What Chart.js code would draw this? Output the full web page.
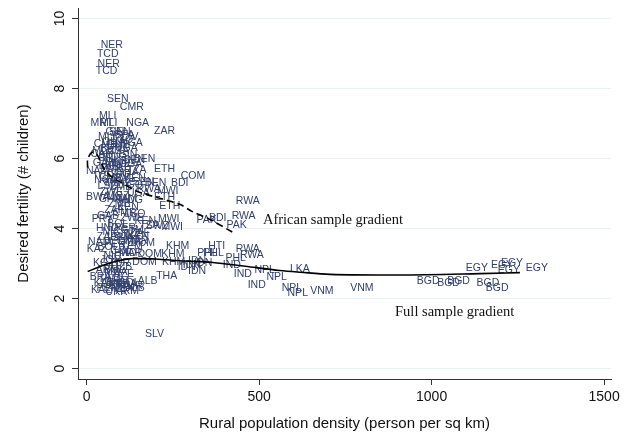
<!DOCTYPE html>
<html>
<head>
<meta charset="utf-8">
<script src="https://cdn.jsdelivr.net/npm/chart.js@4/dist/chart.umd.min.js"></script>
<style>
  html, body { margin: 0; padding: 0; background: #fff; }
  #wrap { width: 635px; height: 437px; }
</style>
</head>
<body>
<div id="wrap"><canvas id="chartFertilidad" width="635" height="437"></canvas></div>
<script>
// country labels, rural density (person per sq km), desired fertility
const codes = [
  'NER','TCD','NER','TCD','SEN','CMR','MLI','MRT','MLI','NGA',
  'ZAR','SEN','GIN','MLI','BFA','CIV','TGO','GHA','NGA','CMR',
  'GMB','UGA','BEN','MOZ','TZA','CAF','GIN','MDG','ERI','BEN',
  'SEN','KEN','GAB','UGA','MWI','LBR','SLE','ETH','ZMB','TZA',
  'NAM','GHA','COG','TCD','COM','KEN','CMR','ZWE','NGA','BDI',
  'SEN','BEN','MDG','TGO','LSO','ZMB','MWI','RWA','ZWE','UGA',
  'ETH','BWA','MOZ','GHA','NAM','MDG','ETH','ZMB','KEN','ZAF',
  'CMR','LSO','GAB','ZWE','PRY','MWI','MWI','SWZ','KEN','TZA',
  'BOL','PER','HND','GTM','NIC','ZAF','RWA','PAK','BDI','RWA',
  'PAK','HTI','RWA','RWA','PHL','PHL','PHL','IDN','IDN','IDN',
  'IDN','IND','IND','NPL','NPL','IND','NPL','NPL','LKA','VNM',
  'VNM','BGD','BGD','BGD','BGD','BGD','EGY','EGY','EGY','EGY',
  'EGY','DOM','DOM','DOM','KHM','KHM','KHM','THA','ALB','UKR',
  'SLV','NAM','KAZ','BOL','PER','COL','GTM','HND','NIC','MAR',
  'JOR','TUR','KGZ','UZB','ARM','MDA','AZE','BRA','TKM','ARM',
  'COL','KAZ','UKR','MDA','BRA','TUR','PER','MEX','ALB','KAZ',
  'ARM','BOL','LSO','SWZ','KEN','GHA','ZAF','MAR','YEM','IDN'
];
const density = [
  73, 61, 64, 58, 90, 131, 61, 44, 64, 148,
  226, 96, 82, 58, 110, 125, 102, 78, 130, 55,
  92, 115, 70, 50, 95, 42, 120, 80, 60, 168,
  138, 110, 50, 128, 85, 65, 100, 226, 75, 145,
  32, 118, 92, 48, 308, 140, 70, 108, 55, 270,
  165, 200, 88, 130, 62, 100, 235, 180, 72, 150,
  226, 32, 90, 68, 112, 128, 241, 95, 120, 80,
  110, 140, 62, 132, 46, 238, 248, 205, 170, 182,
  90, 112, 60, 132, 72, 155, 467, 348, 380, 455,
  435, 377, 467, 479, 350, 368, 432, 320, 338, 305,
  290, 421, 453, 516, 551, 493, 595, 612, 618, 682,
  798, 990, 1049, 1078, 1163, 1190, 1131, 1204, 1233, 1224,
  1305, 163, 183, 168, 264, 250, 252, 232, 177, 87,
  197, 38, 30, 62, 82, 100, 122, 112, 75, 128,
  70, 95, 50, 102, 60, 85, 108, 40, 65, 90,
  122, 50, 75, 112, 95, 132, 60, 105, 140, 42,
  118, 80, 90, 120, 150, 102, 58, 145, 130, 320
];
const fertility = [
  9.23, 8.97, 8.71, 8.49, 7.71, 7.46, 7.2, 7.0, 7.0, 7.0,
  6.77, 6.74, 6.74, 6.62, 6.68, 6.6, 6.52, 6.48, 6.45, 6.4,
  6.38, 6.3, 6.28, 6.22, 6.2, 6.12, 6.1, 6.05, 6.0, 5.97,
  5.95, 5.93, 5.88, 5.85, 5.83, 5.78, 5.74, 5.69, 5.7, 5.66,
  5.63, 5.6, 5.55, 5.5, 5.49, 5.44, 5.43, 5.4, 5.38, 5.31,
  5.33, 5.3, 5.3, 5.24, 5.2, 5.18, 5.08, 5.12, 5.05, 5.0,
  4.89, 4.89, 4.92, 4.85, 4.84, 4.8, 4.63, 4.7, 4.6, 4.52,
  4.45, 4.4, 4.36, 4.3, 4.26, 4.26, 4.04, 4.06, 4.2, 4.1,
  4.12, 4.02, 4.0, 3.95, 3.9, 3.88, 4.77, 4.23, 4.31, 4.34,
  4.11, 3.49, 3.4, 3.23, 3.31, 3.31, 3.14, 3.08, 3.0, 2.94,
  2.9, 2.94, 2.71, 2.8, 2.6, 2.37, 2.31, 2.14, 2.83, 2.2,
  2.29, 2.49, 2.43, 2.51, 2.43, 2.31, 2.86, 2.94, 3.0, 2.8,
  2.86, 3.57, 3.26, 3.03, 3.49, 3.26, 3.03, 2.63, 2.49, 2.17,
  0.97, 3.62, 3.4, 3.46, 3.55, 3.35, 3.6, 3.3, 3.2, 3.3,
  3.1, 3.0, 3.0, 2.9, 2.8, 2.75, 2.7, 2.62, 2.55, 2.5,
  2.45, 2.45, 2.4, 2.4, 2.35, 2.36, 2.3, 2.3, 2.3, 2.25,
  2.22, 2.8, 3.75, 3.85, 3.78, 3.72, 3.75, 3.65, 3.5, 2.78
];

// lowess curves
const fullX = [3, 38, 80, 133, 200, 270, 366, 460, 560, 620, 705, 908, 1140, 1256];
const fullY = [2.77, 2.91, 3.05, 3.14, 3.13, 3.08, 3.03, 2.92, 2.8, 2.75, 2.69, 2.67, 2.71, 2.74];
const afrX = [3, 3, 14, 26, 38, 52, 75, 101, 147, 270, 305, 357, 424];
const afrY = [5.74, 5.97, 6.17, 6.17, 5.97, 5.69, 5.46, 5.31, 5.06, 4.69, 4.49, 4.26, 3.89];

const xTicks = [0, 500, 1000, 1500];
const yTicks = [0, 2, 4, 6, 8, 10];

const notas = [
  { text: 'African sample gradient', x: 511, y: 4.23 },
  { text: 'Full sample gradient', x: 894, y: 1.6 }
];

const colorEtiqueta = '#33406e';

const etiquetasPlugin = {
  id: 'etiquetas',
  beforeDatasetsDraw(chart) {
    const ctx = chart.ctx;
    const meta = chart.getDatasetMeta(0);
    ctx.save();
    ctx.font = '10.5px "Liberation Sans", Arial, sans-serif';
    ctx.fillStyle = colorEtiqueta;
    ctx.textAlign = 'center';
    ctx.textBaseline = 'middle';
    meta.data.forEach((pt, i) => ctx.fillText(codes[i], pt.x, pt.y));
    ctx.restore();
  },
  afterDraw(chart) {
    const ctx = chart.ctx;
    const { x, y } = chart.scales;
    ctx.save();
    // textos de las curvas
    ctx.font = '14.5px "Liberation Serif", "Times New Roman", serif';
    ctx.fillStyle = '#111';
    ctx.textAlign = 'left';
    ctx.textBaseline = 'middle';
    notas.forEach(n => ctx.fillText(n.text, x.getPixelForValue(n.x), y.getPixelForValue(n.y)));
    // etiquetas del eje y giradas (estilo Stata)
    ctx.font = '14px "Liberation Sans", Arial, sans-serif';
    ctx.fillStyle = '#111';
    ctx.textAlign = 'center';
    ctx.textBaseline = 'middle';
    y.ticks.forEach(t => {
      ctx.save();
      ctx.translate(60, y.getPixelForValue(t.value));
      ctx.rotate(-Math.PI / 2);
      ctx.fillText(String(t.value), 0, 0);
      ctx.restore();
    });
    ctx.restore();
  }
};

new Chart(document.getElementById('chartFertilidad'), {
  type: 'scatter',
  data: {
    datasets: [
      {
        label: 'Países',
        data: density.map((d, i) => ({ x: d, y: fertility[i] })),
        pointRadius: 0,
        pointHoverRadius: 0
      },
      {
        label: 'Full sample',
        data: fullX.map((d, i) => ({ x: d, y: fullY[i] })),
        showLine: true,
        pointRadius: 0,
        borderColor: '#000',
        borderWidth: 1.6,
        cubicInterpolationMode: 'monotone'
      },
      {
        label: 'African sample',
        data: afrX.map((d, i) => ({ x: d, y: afrY[i] })),
        showLine: true,
        pointRadius: 0,
        borderColor: '#000',
        borderWidth: 1.6,
        borderDash: [7, 4],
        tension: 0.3
      }
    ]
  },
  options: {
    responsive: false,
    animation: false,
    events: [],
    layout: { padding: { top: 8, right: 24, left: 0, bottom: 0 } },
    plugins: { legend: { display: false }, tooltip: { enabled: false } },
    scales: {
      x: {
        type: 'linear',
        min: -25,
        max: 1520,
        afterBuildTicks: axis => { axis.ticks = xTicks.map(v => ({ value: v })); },
        afterFit: axis => { axis.height = 58; },
        border: { display: true, color: '#333', width: 1 },
        grid: { drawOnChartArea: false, color: '#333', tickColor: '#333', tickLength: 6 },
        ticks: {
          color: '#111',
          padding: 4,
          maxRotation: 0,
          callback: v => String(v),
          font: { family: '"Liberation Sans", Arial, sans-serif', size: 14 }
        },
        title: {
          display: true,
          text: 'Rural population density (person per sq km)',
          color: '#111',
          padding: { top: 0, bottom: 4 },
          font: { family: '"Liberation Sans", Arial, sans-serif', size: 15 }
        }
      },
      y: {
        type: 'linear',
        min: -0.3,
        max: 10.3,
        afterBuildTicks: axis => { axis.ticks = yTicks.map(v => ({ value: v })); },
        afterFit: axis => { axis.width = 78; },
        border: { display: true, color: '#333', width: 1 },
        grid: { color: '#eaf2f3', tickColor: '#333', tickLength: 6 },
        ticks: { display: false },
        title: {
          display: true,
          text: 'Desired fertility (# children)',
          color: '#111',
          padding: { top: 15, bottom: 0 },
          font: { family: '"Liberation Sans", Arial, sans-serif', size: 15 }
        }
      }
    }
  },
  plugins: [etiquetasPlugin]
});
</script>
</body>
</html>
